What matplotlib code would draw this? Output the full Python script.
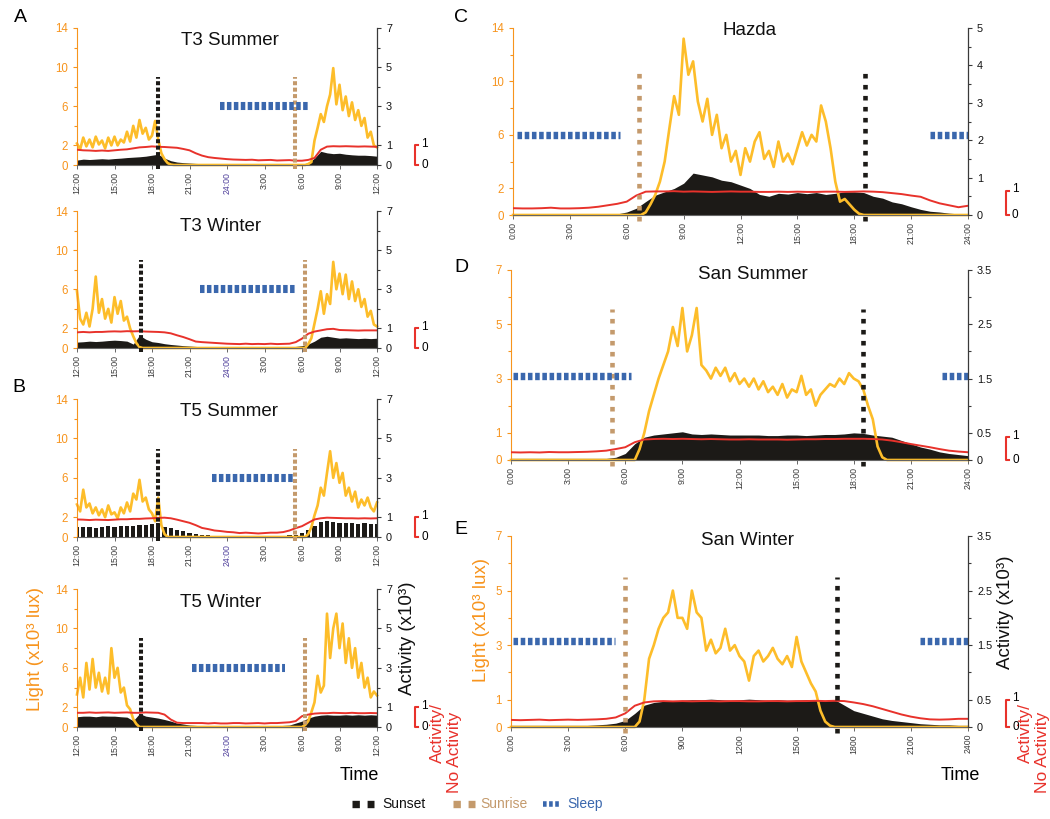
import numpy as np
import matplotlib
matplotlib.use("Agg")
import matplotlib.pyplot as plt
from matplotlib.lines import Line2D
from matplotlib.transforms import blended_transform_factory

plt.rcParams['font.family'] = ['Liberation Sans', 'DejaVu Sans']

W, H = 1050, 819

YELLOW = '#FDBD2A'
ORANGE = '#F7941D'
RED = '#E8322B'
BLACK = '#1c1a17'
TAN = '#C49A6C'
BLUE = '#3A67AD'
PURPLE = '#4F3F9B'
GREY = '#3a3a3a'

# hours from the start of each panel: light every 15 min, activity every 30 min
t15 = np.arange(0, 24.25, 0.25)
t = np.arange(0, 24.5, 0.5)

# ---- T3 Summer (12:00 -> 12:00) ----
t3s_light = [2.2, 1.6, 2.8, 1.9,  2.6, 1.8, 2.9, 2.1,  2.5, 1.7, 2.8, 2.0,
             2.9, 2.0, 2.6, 2.3,  3.4, 2.4, 4.0, 2.8,  4.6, 3.2, 3.8, 2.6,
             3.0, 4.5, 2.6, 1.2,  0.6, 0.2, 0.05, 0,
             0, 0, 0, 0,  0, 0, 0, 0,  0, 0, 0, 0,  0, 0, 0, 0,  0, 0, 0, 0,
             0, 0, 0, 0,  0, 0, 0, 0,  0, 0, 0, 0,  0, 0, 0, 0,  0, 0, 0, 0,
             0, 0, 0.1, 0.3,  2.5, 3.8, 5.2, 4.4,  6.0, 7.2, 9.9, 6.2,
             8.2, 5.6, 7.0, 5.0,  6.4, 4.6, 5.6, 4.0,  4.8, 2.8, 3.4, 2.0,  1.8]
t3s_act = [.25, .3, .28, .3, .32, .3, .33, .35, .38, .4, .42, .45, .5, .55, .35, .22,
           .15, .12, .1, .08, .07, .05, .05, .04, .03, .03, .03, .03, .02, .02, .02, .02,
           .02, .02, .03, .03, .05, .1, .35, .7, .62, .58, .6, .55, .52, .5, .5, .48, .45]
t3s_frac = [.78, .75, .74, .72, .74, .72, .75, .78, .8, .85, .9, .92, .95, .93, .92, .9,
            .88, .82, .75, .6, .48, .4, .36, .33, .3, .28, .27, .26, .27, .24, .25, .26,
            .23, .24, .25, .22, .22, .26, .36, .78, .94, .96, .95, .96, .95, .94, .95, .94, .93]

# ---- T3 Winter ----
t3w_light = [5.8, 3.0, 2.4, 3.6,  2.2, 4.0, 7.3, 3.6,  5.0, 3.0, 4.0, 2.6,
             5.2, 3.5, 4.8, 2.8,  3.2, 2.0, 1.2, 0.5,  0.1, 0, 0, 0,
             0, 0, 0, 0,  0, 0, 0, 0,  0, 0, 0, 0,  0, 0, 0, 0,  0, 0, 0, 0,  0, 0, 0, 0,
             0, 0, 0, 0,  0, 0, 0, 0,  0, 0, 0, 0,  0, 0, 0, 0,  0, 0, 0, 0,  0, 0, 0, 0,
             0, 0, 0.4, 1.0,  2.5, 4.0, 5.8, 3.5,  5.5, 4.5, 8.8, 6.0,
             7.6, 5.5, 7.5, 5.0,  6.8, 4.8, 6.0, 4.2,  5.0, 3.2, 3.8, 2.4,  2.2]
t3w_act = [.3, .32, .35, .33, .35, .38, .4, .38, .35, .2, .65, .45, .32, .28, .22, .18,
           .15, .12, .1, .08, .06, .05, .04, .04, .03, .03, .03, .03, .03, .03, .03, .03,
           .03, .04, .05, .08, .12, .2, .35, .55, .6, .55, .5, .52, .5, .48, .5, .48, .5]
t3w_frac = [.8, .82, .8, .82, .82, .84, .85, .84, .86, .85, .86, .84, .83, .82, .8, .75,
            .65, .56, .45, .33, .3, .28, .26, .24, .22, .21, .2, .22, .2, .21, .2, .22,
            .2, .21, .22, .3, .48, .73, .84, .9, .96, .98, .92, .91, .9, .89, .9, .9, .9]

# ---- T5 Summer ----
t5s_light = [3.3, 2.6, 4.8, 3.0,  3.4, 2.4, 3.0, 2.2,  2.8, 2.0, 3.2, 2.3,
             2.5, 1.9, 3.0, 2.4,  3.5, 2.6, 4.4, 3.8,  5.8, 3.6, 4.0, 2.8,
             2.4, 1.6, 4.0, 1.2,  0.3, 0, 0, 0,
             0, 0, 0, 0,  0, 0, 0, 0,  0, 0, 0, 0,  0, 0, 0, 0,  0, 0, 0, 0,
             0, 0, 0, 0,  0, 0, 0, 0,  0, 0, 0, 0,  0, 0, 0, 0,  0, 0, 0, 0,
             0, 0, 0.3, 1.0,  2.2, 3.2, 5.0, 4.2,  6.5, 8.7, 6.0, 7.5,
             5.5, 6.5, 4.2, 5.0,  3.6, 4.6, 3.0, 3.8,  3.2, 4.0, 3.0, 2.6,  3.5]
t5s_act = [.52, .5, .5, .48, .5, .55, .5, .55, .55, .58, .6, .62, .65, .7, .5, .45,
           .38, .3, .22, .15, .1, .08, .06, .05, .05, .04, .04, .04, .04, .04, .04, .05,
           .05, .06, .08, .12, .2, .35, .55, .75, .8, .75, .72, .7, .7, .68, .7, .66, .68]
t5s_frac = [.89, .88, .86, .88, .87, .86, .88, .9, .9, .92, .92, .94, .95, .97, .98, .95,
            .88, .8, .72, .6, .46, .4, .33, .3, .26, .24, .2, .22, .2, .18, .2, .22,
            .22, .25, .33, .45, .55, .72, .89, .95, .98, .97, .96, .95, .95, .94, .95, .94, .95]

# ---- T5 Winter ----
t5w_light = [3.3, 5.0, 3.0, 6.5,  3.8, 6.9, 4.0, 5.5,  3.6, 5.0, 3.4, 8.0,
             5.0, 6.0, 3.5, 4.0,  2.2, 1.8, 0.8, 0.3,  0, 0, 0, 0,
             0, 0, 0, 0,  0, 0, 0, 0,  0, 0, 0, 0,  0, 0, 0, 0,  0, 0, 0, 0,  0, 0, 0, 0,
             0, 0, 0, 0,  0, 0, 0, 0,  0, 0, 0, 0,  0, 0, 0, 0,  0, 0, 0, 0,  0, 0, 0, 0,
             0, 0.2, 0.6, 1.5,  2.5, 5.2, 3.5, 4.2,  11.5, 7.0, 10.0, 11.5,
             8.0, 10.5, 6.5, 9.0,  6.0, 8.0, 5.0, 6.5,  4.0, 5.0, 3.0, 3.6,  3.2]
t5w_act = [.52, .55, .55, .52, .56, .55, .55, .52, .5, .32, .68, .55, .5, .45, .38, .3,
           .2, .15, .1, .08, .06, .05, .05, .05, .05, .05, .05, .05, .05, .05, .05, .06,
           .06, .08, .1, .2, .3, .45, .55, .6, .62, .6, .6, .62, .6, .62, .6, .62, .6]
t5w_frac = [.72, .72, .74, .72, .73, .74, .72, .73, .74, .72, .72, .74, .73, .72, .63, .38,
            .22, .2, .2, .2, .2, .18, .2, .18, .18, .2, .2, .18, .19, .2, .18, .2,
            .2, .22, .24, .3, .55, .63, .68, .7, .7, .72, .71, .7, .72, .7, .7, .71, .7]

# ---- Hazda (0:00 -> 24:00) ----
hz_light = [0, 0, 0, 0,  0, 0, 0, 0,  0, 0, 0, 0,  0, 0, 0, 0,  0, 0, 0, 0,
            0, 0, 0, 0,  0, 0, 0, 0,
            0.2, 0.8, 1.5, 2.5,  4.0, 6.5, 8.9, 7.5,  13.2, 10.5, 11.5, 8.5,
            7.0, 8.7, 6.0, 7.5,  5.0, 6.0, 4.0, 4.8,  3.0, 5.0, 4.0, 5.5,
            6.2, 4.2, 4.8, 3.6,  5.5, 4.0, 4.6, 3.8,  5.0, 6.2, 5.2, 6.0,
            5.5, 8.2, 7.0, 5.0,  2.5, 1.0, 1.2, 0.8,  0.4, 0.1, 0, 0,
            0, 0, 0, 0,  0, 0, 0, 0,  0, 0, 0, 0,  0, 0, 0, 0,  0, 0, 0, 0,  0]
hz_act = [.02, .02, .02, .02, .02, .02, .02, .02, .02, .02, .02, .03, .08, .18, .36, .53,
          .62, .71, .85, 1.12, 1.07, 1.02, .93, .89, .8, .71, .55, .5, .58, .56, .6, .57,
          .6, .55, .58, .62, .62, .6, .5, .45, .35, .3, .22, .15, .1, .08, .05, .03, .02]
hz_frac = [.28, .27, .27, .28, .3, .27, .27, .28, .3, .34, .4, .46, .55, .8, .96, .97,
           .97, .98, .96, .97, .96, .95, .96, .97, .96, .96, .95, .95, .96, .95, .96, .95,
           .95, .96, .96, .95, .96, .97, .96, .94, .9, .86, .8, .75, .6, .48, .4, .32, .38]

# ---- San Summer ----
ss_light = [0, 0, 0, 0,  0, 0, 0, 0,  0, 0, 0, 0,  0, 0, 0, 0,  0, 0, 0, 0,  0, 0, 0, 0,
            0, 0, 0, 0.4,  1.0, 1.8, 2.4, 3.0,  3.5, 4.0, 4.9, 4.2,  5.6, 4.0, 4.6, 5.6,
            3.5, 3.3, 3.0, 3.4,  3.1, 3.4, 2.9, 3.2,  2.8, 3.0, 2.7, 3.0,
            2.6, 2.9, 2.5, 2.7,  2.4, 2.8, 2.3, 2.6,  2.5, 3.1, 2.4, 2.6,
            2.0, 2.4, 2.6, 2.8,  2.7, 3.0, 2.8, 3.2,  3.0, 2.9, 2.6, 2.0,
            1.5, 0.5, 0.1, 0,  0, 0, 0, 0,  0, 0, 0, 0,  0, 0, 0, 0,  0, 0, 0, 0,  0]
ss_act = [.03, .03, .03, .03, .03, .03, .03, .03, .03, .03, .03, .05, .12, .3, .42, .46,
          .48, .5, .52, .48, .47, .48, .47, .46, .46, .46, .46, .45, .45, .46, .46, .45,
          .46, .47, .47, .48, .5, .49, .46, .44, .42, .36, .3, .24, .2, .15, .12, .1, .08]
ss_frac = [.34, .33, .34, .33, .35, .34, .34, .35, .36, .38, .41, .48, .56, .78, .9, .92,
           .93, .92, .93, .92, .91, .92, .91, .9, .9, .91, .9, .9, .9, .89, .9, .91,
           .91, .92, .92, .93, .93, .93, .92, .9, .85, .78, .7, .63, .56, .48, .41, .37, .34]

# ---- San Winter ----
sw_light = [0, 0, 0, 0,  0, 0, 0, 0,  0, 0, 0, 0,  0, 0, 0, 0,  0, 0, 0, 0,  0, 0, 0, 0,
            0, 0, 0, 0.2,  1.0, 2.5, 3.0, 3.6,  4.0, 4.2, 5.0, 4.0,  4.0, 3.6, 5.0, 4.2,
            4.0, 2.8, 3.2, 2.7,  2.9, 3.6, 2.8, 3.0,  2.6, 2.4, 1.7, 2.6,
            2.8, 2.4, 2.6, 2.9,  2.5, 2.3, 2.6, 2.2,  3.3, 2.4, 2.0, 1.6,
            1.3, 0.6, 0.2, 0.05,  0, 0, 0, 0,
            0, 0, 0, 0,  0, 0, 0, 0,  0, 0, 0, 0,  0, 0, 0, 0,  0, 0, 0, 0,  0, 0, 0, 0,  0]
sw_act = [.03, .03, .03, .03, .03, .03, .03, .03, .03, .04, .05, .07, .12, .25, .4, .45,
          .47, .48, .49, .5, .5, .51, .5, .49, .5, .51, .5, .49, .5, .49, .49, .5,
          .5, .48, .5, .4, .3, .25, .2, .15, .12, .1, .08, .06, .05, .04, .04, .03, .03]
sw_frac = [.26, .25, .26, .27, .25, .26, .27, .26, .27, .28, .3, .35, .5, .78, .9, .94,
           .95, .94, .95, .94, .95, .95, .94, .95, .95, .94, .94, .95, .95, .94, .95, .95,
           .96, .95, .96, .95, .9, .84, .76, .66, .56, .46, .38, .32, .28, .27, .28, .3, .3]

left_xlabels = ['12:00', '15:00', '18:00', '21:00', '24:00', '3:00', '6:00', '9:00', '12:00']
day_xlabels = ['0:00', '3:00', '6:00', '9:00', '12:00', '15:00', '18:00', '21:00', '24:00']
sw_xlabels = ['0:00', '3:00', '6:00', '900', '1200', '1500', '1800', '2100', '2400']

fig = plt.figure(figsize=(W / 100, H / 100), dpi=100)


def fx(x):
    return x / W


def fy(y):
    return 1 - y / H


def panel(box, title, tpos, light, act, frac, lmax, amax, ftop,
          lticks, lminor, aticks, aminor, alabels, xlabels, events, sleeps, sleep_y,
          bars=False, purple=None, dash=(1, 0.6), dlw=2.9, slw=5.8, sdash=(0.56, 0.3)):
    x0, y0, x1, y1 = box
    ax = fig.add_axes([fx(x0), fy(y1), (x1 - x0) / W, (y1 - y0) / H])
    ax2 = ax.twinx()
    ax.set_xlim(0, 24)
    ax.set_ylim(0, lmax)
    ax2.set_ylim(0, amax)

    if bars:
        ax.bar(t, act, width=0.34, color=BLACK, lw=0, transform=ax2.transData, zorder=1)
    else:
        ax.fill_between(t, 0, act, color=BLACK, lw=0, transform=ax2.transData, zorder=1)
    ax.plot(t15, light, color=YELLOW, lw=1.9, zorder=2, clip_on=False)
    ax.plot(t, np.array(frac) * ftop, color=RED, lw=1.4, transform=ax2.transData, zorder=3)

    for tx, top, col in events:
        ax.plot([tx, tx], [-lmax * 0.03, top], color=col, lw=dlw, dashes=dash,
                zorder=4, clip_on=False)
    for s0, s1 in sleeps:
        ax.plot([s0, s1], [sleep_y, sleep_y], color=BLUE, lw=slw, dashes=sdash,
                zorder=4, clip_on=False)

    ax.text(tpos[0], tpos[1], title, transform=ax.transAxes, ha='center', va='center',
            fontsize=13.5, color='#111')

    # axes styling
    ax.spines['top'].set_visible(False)
    ax.spines['right'].set_visible(False)
    ax.spines['left'].set_color(ORANGE)
    ax.spines['bottom'].set_color('#666')
    ax.spines['bottom'].set_linewidth(0.8)
    for s in ['top', 'left', 'bottom']:
        ax2.spines[s].set_visible(False)
    ax2.spines['right'].set_color(GREY)
    ax2.spines['right'].set_linewidth(0.9)

    ax.set_yticks(lticks)
    ax.set_yticks(lminor, minor=True)
    ax.tick_params(axis='y', which='both', colors=ORANGE, labelsize=8.3, length=3, width=0.8)
    ax.tick_params(axis='y', which='minor', length=2.5)
    ax2.set_yticks(aticks)
    ax2.set_yticklabels(alabels)
    ax2.set_yticks(aminor, minor=True)
    ax2.tick_params(axis='y', which='both', colors=GREY, labelcolor='#111', labelsize=7.8,
                    length=3, width=0.8)
    ax2.tick_params(axis='y', which='minor', length=2.5)

    ax.set_xticks(range(0, 25, 3))
    ax.set_xticklabels(xlabels, rotation=90, fontsize=6.3, color=GREY)
    ax.tick_params(axis='x', length=3, width=0.7, color='#666', pad=2)
    if purple is not None:
        ax.get_xticklabels()[purple].set_color(PURPLE)

    # activity / no activity scale bracket
    bx = 1 + 38 / (x1 - x0)
    bw = 3 / (x1 - x0)
    tr = blended_transform_factory(ax.transAxes, ax2.transData)
    ax.plot([bx + bw, bx, bx, bx + bw], [ftop, ftop, 0, 0], color=RED, lw=1.5,
            transform=tr, clip_on=False)
    ax.text(bx + 2 * bw, ftop * 1.05, '1', transform=tr, fontsize=8.5, va='center', ha='left')
    ax.text(bx + 2 * bw, 0, '0', transform=tr, fontsize=8.5, va='center', ha='left')
    return ax


L14 = dict(lmax=14, lticks=[0, 2, 6, 10, 14], lminor=[4, 8, 12])
L7 = dict(lmax=7, lticks=[0, 1, 3, 5, 7], lminor=[2, 4, 6])
A7 = dict(amax=7, ftop=1.0, aticks=[0, 1, 3, 5, 7], aminor=[2, 4, 6],
          alabels=['0', '1', '3', '5', '7'], xlabels=left_xlabels, purple=4)

panel((77, 28, 377, 165), 'T3 Summer', (0.51, 0.91), t3s_light, t3s_act, t3s_frac,
      events=[(6.5, 9, BLACK), (17.4, 9, TAN)], sleeps=[(11.4, 18.5)], sleep_y=6,
      **A7, **L14)
panel((77, 211, 377, 348), 'T3 Winter', (0.48, 0.89), t3w_light, t3w_act, t3w_frac,
      events=[(5.1, 9, BLACK), (18.2, 9, TAN)], sleeps=[(9.8, 17.4)], sleep_y=6,
      **A7, **L14)
panel((77, 399, 377, 537), 'T5 Summer', (0.507, 0.91), t5s_light, t5s_act, t5s_frac,
      events=[(6.5, 8.9, BLACK), (17.4, 8.9, TAN)], sleeps=[(10.8, 17.3)], sleep_y=6,
      bars=True, **A7, **L14)
panel((77, 589, 377, 727), 'T5 Winter', (0.48, 0.9), t5w_light, t5w_act, t5w_frac,
      events=[(5.1, 9, BLACK), (18.2, 9, TAN)], sleeps=[(9.2, 16.6)], sleep_y=6,
      **A7, **L14)

RDASH = dict(dash=(1, 1.4), dlw=3.3, slw=5.3, sdash=(0.62, 0.36))
panel((513, 28, 968, 215), 'Hazda', (0.52, 0.985), hz_light, hz_act, hz_frac,
      amax=5, ftop=0.65, aticks=[0, 1, 2, 3, 4, 5], aminor=[0.5, 1.5, 2.5, 3.5, 4.5],
      alabels=['0', '1', '2', '3', '4', '5'], xlabels=day_xlabels,
      events=[(6.65, 11, TAN), (18.57, 11, BLACK)], sleeps=[(0.2, 5.65), (22.0, 24)],
      sleep_y=6, **L14, **RDASH)
panel((511, 270, 968, 460), 'San Summer', (0.53, 0.975), ss_light, ss_act, ss_frac,
      amax=3.5, ftop=0.42, aticks=[0, 0.5, 1.5, 2.5, 3.5], aminor=[1, 2, 3],
      alabels=['0', '0.5', '1.5', '2.5', '3.5'], xlabels=day_xlabels,
      events=[(5.3, 5.55, TAN), (18.5, 5.55, BLACK)], sleeps=[(0.1, 6.3), (22.65, 24)],
      sleep_y=3.1, **L7, **RDASH)
panel((511, 536, 968, 727), 'San Winter', (0.517, 0.975), sw_light, sw_act, sw_frac,
      amax=3.5, ftop=0.5, aticks=[0, 0.5, 1.5, 2.5, 3.5], aminor=[1, 2, 3],
      alabels=['0', '0.5', '1.5', '2.5', '3.5'], xlabels=sw_xlabels,
      events=[(6.0, 5.5, TAN), (17.1, 5.5, BLACK)], sleeps=[(0.1, 5.44), (21.5, 24)],
      sleep_y=3.15, **L7, **RDASH)

# panel letters
for letter, (lx, ly) in zip('ABCDE', [(20, 17), (19, 388), (461, 18), (461, 268), (461, 530)]):
    fig.text(fx(lx), fy(ly), letter, fontsize=14, ha='center', va='center')

# axis titles
fig.text(fx(36), fy(649), 'Light (x10³ lux)', color=ORANGE, fontsize=13.5,
         rotation=90, ha='center', va='center')
fig.text(fx(481), fy(620), 'Light (x10³ lux)', color=ORANGE, fontsize=13.5,
         rotation=90, ha='center', va='center')
fig.text(fx(407), fy(638), 'Activity (x10³)', color='#111', fontsize=13.5,
         rotation=90, ha='center', va='center')
fig.text(fx(1005), fy(612), 'Activity (x10³)', color='#111', fontsize=13.5,
         rotation=90, ha='center', va='center')
fig.text(fx(437), fy(733), 'Activity/', color=RED, fontsize=12.5, rotation=90,
         ha='center', va='center')
fig.text(fx(455), fy(752), 'No Activity', color=RED, fontsize=12.5, rotation=90,
         ha='center', va='center')
fig.text(fx(1025), fy(733), 'Activity/', color=RED, fontsize=12.5, rotation=90,
         ha='center', va='center')
fig.text(fx(1042), fy(752), 'No Activity', color=RED, fontsize=12.5, rotation=90,
         ha='center', va='center')
fig.text(fx(359), fy(775), 'Time', fontsize=13, ha='center', va='center')
fig.text(fx(960), fy(775), 'Time', fontsize=13, ha='center', va='center')

# legend
ly = fy(804)
fig.add_artist(Line2D([fx(352), fx(374)], [ly, ly], color=BLACK, lw=5.3, dashes=(1, 1.05)))
fig.text(fx(382), ly, 'Sunset', fontsize=10, va='center', color='#111')
fig.add_artist(Line2D([fx(453), fx(475)], [ly, ly], color=TAN, lw=5.3, dashes=(1, 1.05)))
fig.text(fx(480), ly, 'Sunrise', fontsize=10, va='center', color=TAN)
fig.add_artist(Line2D([fx(543), fx(559)], [ly, ly], color=BLUE, lw=4, dashes=(0.65, 0.45)))
fig.text(fx(567), ly, 'Sleep', fontsize=10, va='center', color=BLUE)

fig.savefig('out.png', dpi=100)
